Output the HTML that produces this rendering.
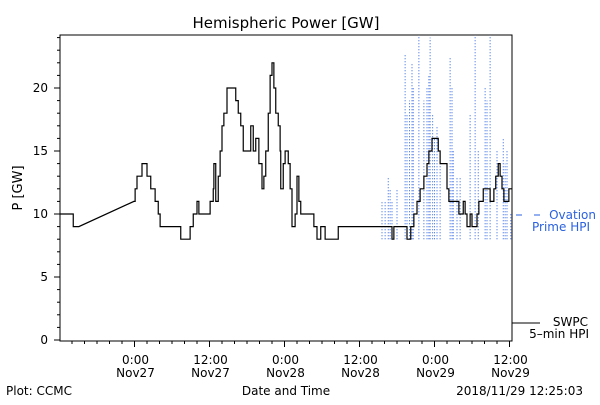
<!DOCTYPE html>
<html><head><meta charset="utf-8"><style>
body{margin:0;background:#fff}
svg text{font-family:"DejaVu Sans","Liberation Sans",sans-serif;font-size:12px}
</style></head><body>
<svg id="chart" width="600" height="400" viewBox="0 0 600 400" xmlns="http://www.w3.org/2000/svg">
<rect width="600" height="400" fill="#fff"/>
<text x="286" y="28" text-anchor="middle" style="font-size:15px">Hemispheric Power [GW]</text>
<text transform="translate(22,188) rotate(-90)" text-anchor="middle" style="font-size:13px">P [GW]</text>
<text x="286" y="395" text-anchor="middle">Date and Time</text>
<text x="6" y="395">Plot: CCMC</text>
<text x="583" y="395" text-anchor="end">2018/11/29 12:25:03</text>
<g id="axes"></g>
<g id="marks"></g>
<g>
<line x1="516" y1="215" x2="522" y2="215" stroke="#2a62e0"/><line x1="534" y1="215" x2="540" y2="215" stroke="#2a62e0"/>
<text x="596" y="219" text-anchor="end" fill="#2a62e0">Ovation</text>
<text x="590" y="231" text-anchor="end" fill="#2a62e0">Prime HPI</text>
<line x1="512" y1="323" x2="540" y2="323" stroke="#000"/>
<text x="588" y="326" text-anchor="end">SWPC</text>
<text x="589" y="338" text-anchor="end">5–min HPI</text>
</g>
</svg>
<script>
// hours since 2018-11-26 12:00
const swpcHours=[0,2.2,3.1,11.9,12.1,12.4,13.2,14.0,14.6,15.3,15.8,16.1,19.4,20.9,21.4,22.0,22.3,24.1,24.6,24.7,25.0,25.4,25.7,26.0,26.3,26.8,28.2,28.6,29.0,29.4,30.6,31.0,31.4,31.9,32.4,32.7,33.0,33.4,33.7,34.0,34.3,34.6,35.0,35.3,35.4,35.8,36.1,36.6,36.9,37.2,37.7,38.0,38.3,38.6,40.7,41.2,41.8,42.5,44.6,53.2,53.5,55.6,56.2,56.7,57.2,57.7,58.3,58.8,59.1,59.6,60.6,60.9,62.0,62.3,63.9,64.6,64.9,65.2,65.7,66.0,66.8,67.1,67.8,68.9,69.5,69.8,70.2,70.5,70.8,71.1,71.9,72.4];
const swpcValues=[10,9,9,11,12,13,14,13,12,11,10,9,8,9,10,11,10,11,12,14,11,13,15,17,18,20,19,18,17,15,17,15,16,14,12,13,15,18,21,22,20,18,17,15,12,14,15,14,12,9,10,13,11,10,9,8,9,8,9,8,9,8,9,10,11,12,13,14,15,16,15,14,12,11,10,11,10,9,10,9,10,11,12,11,12,13,14,13,12,11,12,12];
const ovHours=[51.6,52.1,52.6,52.9,53.2,54.0,55.3,55.6,56.0,56.4,56.6,57.5,58.3,58.8,59.1,59.3,59.7,60.0,60.4,60.9,62.5,62.8,63.0,63.6,64.1,65.7,66.5,67.0,68.1,68.4,68.9,70.0,71.0,71.3,71.6,72.2];
const ovValues=[11,11,13,12,11,12,22.6,18,19,22,20,24.2,19,20,21,24,18,16,17,14,22.5,20,15,13,13,18,24.2,15,20,19,24.2,15,16,14,15,10];
const ovLow=8;
const yTicks=[0,5,10,15,20];
const xTickLabels=[["0:00","Nov27"],["12:00","Nov27"],["0:00","Nov28"],["12:00","Nov28"],["0:00","Nov29"],["12:00","Nov29"]];
const xTickHours=[12,24,36,48,60,72];

const L=60,R=512,T=35,B=341;
const xs=h=>59.5+6.25*h;
const ys=v=>340-12.6*v;
const NS="http://www.w3.org/2000/svg";
const axes=document.getElementById('axes'),marks=document.getElementById('marks');
function mk(tag,attrs,parent){const e=document.createElementNS(NS,tag);for(const k in attrs)e.setAttribute(k,attrs[k]);parent.appendChild(e);return e;}
const frame=mk('rect',{x:L,y:T,width:R-L,height:B-T,fill:'none',stroke:'#000','stroke-width':1},axes);


for(let v=0;v<=24;v++){
  const y=ys(v),major=v%5===0;
  const t=mk('line',{x1:L-(major?6:3),x2:L,y1:y,y2:y,stroke:'#000'},axes);
  
  
}
yTicks.forEach(v=>{
  const t=mk('text',{x:L-12,y:ys(v)+4,'text-anchor':'end'},axes);t.textContent=v;
  
  
});
for(let h=2;h<=72;h+=2){
  const x=xs(h),major=h%12===0;
  const t=mk('line',{x1:x,x2:x,y1:B,y2:B+(major?6:3),stroke:'#000'},axes);
  
  
}
xTickHours.forEach((h,i)=>{
  const t=mk('text',{x:xs(h)+1,y:364,'text-anchor':'middle'},axes);t.textContent=xTickLabels[i][0];
  
  
  const t2=mk('text',{x:xs(h)+1,y:377,'text-anchor':'middle'},axes);t2.textContent=xTickLabels[i][1];
  
  
});
let d='';
ovHours.forEach((h,i)=>{const x=xs(h);d+=`M${x},${ys(ovLow)}V${ys(ovValues[i])}`;});
const ov=mk('path',{d:d,fill:'none',stroke:'#2a62e0','stroke-width':1,'stroke-dasharray':'1 2'},marks);


let p=`M${xs(swpcHours[0])},${ys(swpcValues[0])}`;
for(let i=1;i<swpcHours.length;i++){
  const x=xs(swpcHours[i]),y=ys(swpcValues[i]);
  if(i===3) p+=`L${x},${y}`; else p+=`H${x}V${y}`;
}
const sw=mk('path',{d:p,fill:'none',stroke:'#000','stroke-width':1.2},marks);


</script>
</body></html>
